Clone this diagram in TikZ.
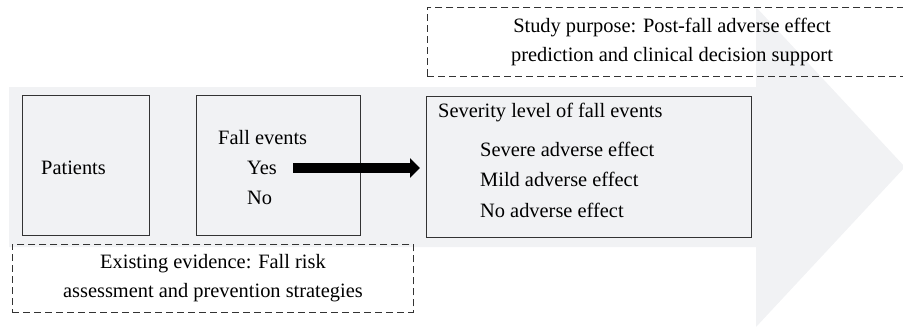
\documentclass[tikz,border=0pt]{standalone}
\usepackage{fontspec}
\setmainfont{Liberation Serif}
\usetikzlibrary{positioning,arrows.meta}
\definecolor{bandgray}{HTML}{F1F2F4}
\definecolor{boxline}{HTML}{333333}
\tikzset{
  myBox/.style={draw=boxline,line width=1.3pt,fill=bandgray,anchor=north west,inner sep=0pt},
  myDash/.style={draw=boxline,line width=0.9pt,dash pattern=on 7pt off 4pt,anchor=north west,inner sep=0pt},
  myText/.style={font=\fontsize{20.4}{29}\selectfont,inner sep=0pt}
}
\newcommand{\myLine}[4]{
    \node[myText,anchor=west] (#1) at (#2,#3) {#4};
}

\begin{document}
\begin{tikzpicture}[x=1pt,y=-1pt]
      \useasboundingbox (0,0) rectangle (903,330);
      \clip (0,0) rectangle (903,330);

      % background band
      \fill[bandgray] (9,87) -- (756,87) -- (756,7) -- (905,167) -- (756,327) -- (756,247) -- (9,247) -- cycle;

      % dashed boxes
      \node[myDash,minimum width=490,minimum height=69] (purpose) at (427,7) {};
      \node[myText,align=center] (purposetxt) at (672,41.5) {Study purpose: Post-fall adverse effect\\prediction and clinical decision support};
      \node[myDash,minimum width=401,minimum height=68] (evidence) at (12,244) {};
      \node[myText,align=center] (evidencetxt) at (evidence.center) {Existing evidence: Fall risk\\assessment and prevention strategies};

      % boxes
      \node[myBox,minimum width=127,minimum height=140] (patients) at (22,95) {};
      \node[myBox,minimum width=164,minimum height=140] (fall) at (196,95) {};
      \node[myBox,minimum width=325,minimum height=141] (severity) at (426,96) {};

      \myLine{pat}{41}{168}{Patients}
      \myLine{fallhead}{218}{138}{Fall events}
      \myLine{yes}{247}{168}{Yes}
      \myLine{no}{247}{198}{No}

      \myLine{sevhead}{438}{113}{Severity level of fall events}
      \myLine{severe}{480}{149}{Severe adverse effect}
      \myLine{mild}{480}{179}{Mild adverse effect}
      \myLine{none}{480}{210}{No adverse effect}

      % arrow
      \draw[line width=9.5pt,-{Triangle[length=10pt,width=19pt]},shorten >=6pt] (293,168) -- (yes.east -| severity.west);
\end{tikzpicture}
\end{document}
